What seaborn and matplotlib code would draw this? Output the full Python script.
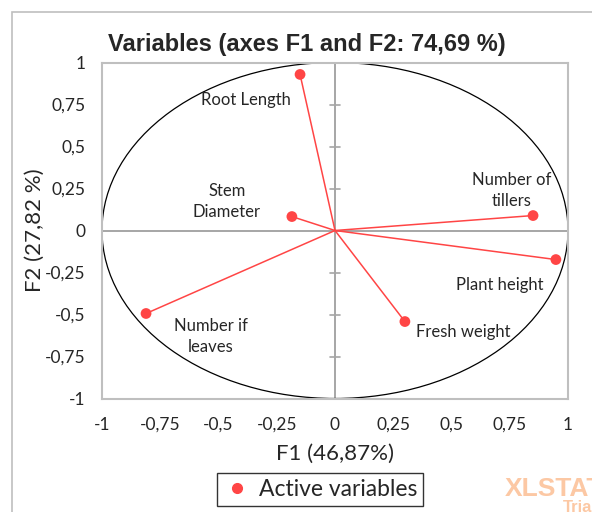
import numpy as np
import pandas as pd
import matplotlib
matplotlib.use("Agg")
import matplotlib.pyplot as plt
import matplotlib.patches as mpatches
from matplotlib.ticker import FuncFormatter
from matplotlib.lines import Line2D
import seaborn as sns

# Datos: coordenadas de las variables en F1/F2
variables = ["Root Length", "Stem\nDiameter", "Number of\ntillers",
             "Plant height", "Fresh weight", "Number if\nleaves"]
f1 = [-0.150, -0.185, 0.850, 0.948, 0.300, -0.811]
f2 = [0.929, 0.083, 0.089, -0.173, -0.542, -0.494]
# desplazamiento de las etiquetas (pixeles) respecto del punto
label_dx = [-54, -65, -21, -56, 58, 65]
label_dy = [-26, 15, 25, -25, -10, -23]

ticks = [-1, -0.75, -0.5, -0.25, 0, 0.25, 0.5, 0.75, 1]
title = "Variables (axes F1 and F2: 74,69 %)"
xlabel = "F1 (46,87%)"
ylabel = "F2 (27,82 %)"

red = "#FF4545"
grey = "#A6A6A6"


def comma(v, pos):
    s = f"{v:g}"
    return s.replace(".", ",")


def main():
    df = pd.DataFrame({"var": variables, "F1": f1, "F2": f2})

    sns.set_style("white")
    plt.rcParams["font.family"] = ["Lato", "DejaVu Sans"]

    fig = plt.figure(figsize=(5.92, 5.12), dpi=100)
    W, H = 592, 512
    ax = fig.add_axes([102 / W, (H - 398.5) / H, 466 / W, 336 / H])

    # circulo de correlaciones
    ax.add_patch(mpatches.Circle((0, 0), 1, fill=False, ec="black", lw=0.9, zorder=2))
    ax.axhline(0, color=grey, lw=1.4, zorder=1)
    ax.axvline(0, color=grey, lw=1.4, zorder=1)
    # marcas sobre el eje vertical
    for t in ticks:
        if t not in (-1, 1):
            ax.plot([-0.022, 0.022], [t, t], color=grey, lw=1.2, zorder=1)

    for _, r in df.iterrows():
        ax.plot([0, r.F1], [0, r.F2], color=red, lw=1.1, zorder=3)
    sns.scatterplot(data=df, x="F1", y="F2", color=red, s=60, edgecolor="none",
                    zorder=4, ax=ax, legend=False)

    for i, r in df.iterrows():
        ax.annotate(r["var"], (r.F1, r.F2), xytext=(label_dx[i] * 0.72, label_dy[i] * 0.72),
                    textcoords="offset points", ha="center", va="center",
                    fontsize=12, linespacing=1.35, zorder=5)

    ax.set_xlim(-1, 1)
    ax.set_ylim(-1, 1)
    ax.set_xticks(ticks)
    ax.set_yticks(ticks)
    ax.xaxis.set_major_formatter(FuncFormatter(comma))
    ax.yaxis.set_major_formatter(FuncFormatter(comma))
    ax.tick_params(length=0, labelsize=12.5, pad=13)
    ax.tick_params(axis="y", pad=12)
    for s in ax.spines.values():
        s.set_color("#BFBFBF")
        s.set_linewidth(1.5)
    ax.set_xlabel(xlabel, fontsize=16, labelpad=8)
    ax.set_ylabel(ylabel, fontsize=16, labelpad=0)

    fig.text(307 / W, 1 - 45 / H, title, ha="center", va="center",
             fontsize=17, fontweight="bold", family="Liberation Sans")

    handle = Line2D([], [], marker="o", ls="none", color=red, markersize=7)
    leg = fig.legend([handle], ["Active variables"], loc="center",
                     bbox_to_anchor=(320 / W, 1 - 489.5 / H), fontsize=16.5,
                     frameon=True, fancybox=False, handletextpad=0.3,
                     handlelength=1.3, borderpad=0.25, borderaxespad=0)
    leg.get_frame().set_edgecolor("black")
    leg.get_frame().set_linewidth(1.0)

    # marco exterior del grafico
    fig.patches.append(mpatches.Rectangle((12 / W, -0.1), 1.2, 1 - 12 / H + 0.1,
                                          transform=fig.transFigure, fill=False,
                                          ec="#BFBFBF", lw=1.2))

    # marca de agua de la version de prueba
    fig.text(505 / W, 1 - 489 / H, "XLSTAT", fontsize=19, fontweight="bold",
             color="#FCC8A4", ha="left", va="center", family="Liberation Sans")
    fig.text(563 / W, 1 - 508 / H, "Trial", fontsize=12, fontweight="bold",
             color="#FCC8A4", ha="left", va="center", family="Liberation Sans")

    fig.savefig("out.png", dpi=100)


if __name__ == "__main__":
    main()
